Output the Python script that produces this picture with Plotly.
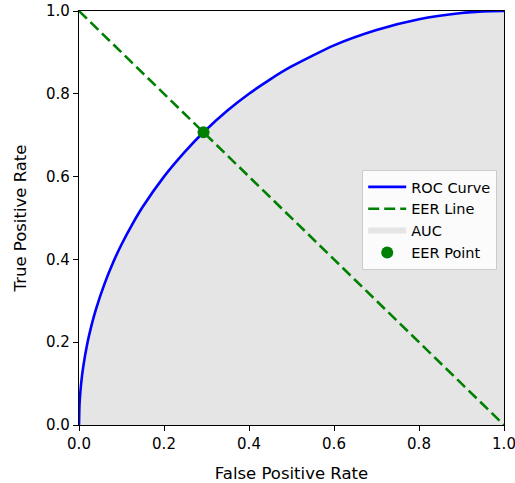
import plotly.graph_objects as go

# ROC curve points
fpr = [0.0, 0.001, 0.002, 0.005, 0.01, 0.02, 0.03, 0.04, 0.06, 0.08, 0.10, 0.125, 0.15, 0.20, 0.25, 0.293,
       0.35, 0.40, 0.45, 0.50, 0.60, 0.70, 0.80, 0.90, 0.95, 1.0]
tpr = [0.0, 0.045, 0.063, 0.10, 0.141, 0.199, 0.243, 0.28, 0.341, 0.392, 0.436, 0.484, 0.527, 0.60, 0.661, 0.707,
       0.760, 0.80, 0.835, 0.866, 0.917, 0.954, 0.980, 0.995, 0.999, 1.0]
eer_line_x = [0.0, 1.0]
eer_line_y = [1.0, 0.0]
eer_x = [0.293]
eer_y = [0.707]
ticks = [0.0, 0.2, 0.4, 0.6, 0.8, 1.0]
tick_labels = ["0.0", "0.2", "0.4", "0.6", "0.8", "1.0"]

FONT = "DejaVu Sans"

fig = go.Figure()
fig.add_trace(go.Scatter(x=fpr, y=tpr, mode="none", name="AUC", fill="tozeroy",
                         line=dict(shape="spline", smoothing=0.6),
                         fillcolor="rgb(229,229,229)", legendrank=3))
fig.add_trace(go.Scatter(x=fpr, y=tpr, mode="lines", name="ROC Curve",
                         line=dict(color="#0000ff", width=2.6, shape="spline", smoothing=0.6), legendrank=1))
fig.add_trace(go.Scatter(x=eer_line_x, y=eer_line_y, mode="lines", name="EER Line",
                         line=dict(color="#008000", width=2.6, dash="11px,5px"), legendrank=2))
fig.add_trace(go.Scatter(x=eer_x, y=eer_y, mode="markers", name="EER Point",
                         marker=dict(color="#008000", size=12), legendrank=4))

axis_common = dict(range=[0, 1], showgrid=False, zeroline=False, showline=True, mirror=True,
                   linecolor="black", linewidth=1.2, ticks="outside", ticklen=5, tickwidth=1.2,
                   tickcolor="black", tickvals=ticks, ticktext=tick_labels, automargin=False,
                   ticklabeloverflow="allow",
                   tickfont=dict(family=FONT, size=15, color="black"))
fig.update_xaxes(title=dict(text="False Positive Rate", font=dict(family=FONT, size=16.5, color="black")),
                 **axis_common)
fig.update_yaxes(title=dict(text="True Positive Rate", font=dict(family=FONT, size=16.5, color="black")),
                 **axis_common)
fig.update_layout(
    width=515, height=483,
    margin=dict(l=79, r=11, t=11, b=58),
    plot_bgcolor="white", paper_bgcolor="white",
    showlegend=True,
    legend=dict(x=0.984, y=0.616, xanchor="right", yanchor="top",
                bgcolor="rgba(255,255,255,0.85)", bordercolor="#cccccc", borderwidth=1,
                font=dict(family=FONT, size=14.5, color="black"),
                traceorder="normal", tracegroupgap=0, itemwidth=38),
)
fig.write_html("out.html")
